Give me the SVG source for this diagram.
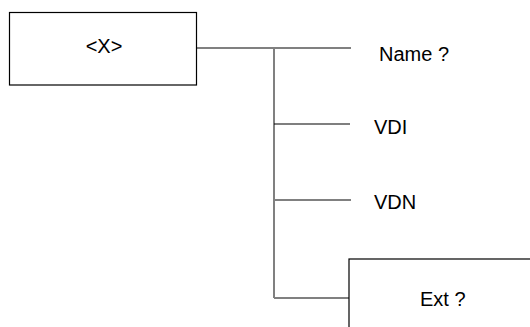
<svg xmlns="http://www.w3.org/2000/svg" width="530" height="327" viewBox="0 0 530 327">
<style>
.box{fill:#fff;stroke:#000;stroke-width:1.2}
.t{font-family:"Liberation Sans",Arial,sans-serif;font-size:20px;fill:#000}
.c{stroke:#808080;stroke-width:2;fill:none}
.cb{stroke:#000;stroke-width:1.2;fill:none}
</style>
<rect width="530" height="327" fill="#fff"/>
<g id="connectors">
<line class="c" x1="196" y1="48" x2="351" y2="48"/>
<line class="c" x1="274" y1="48" x2="274" y2="298"/>
<line class="cb" x1="274" y1="124" x2="350" y2="124"/>
<line class="c" x1="274" y1="200" x2="351" y2="200"/>
<line class="c" x1="274" y1="298" x2="349" y2="298"/>
</g>
<g id="node-x">
<rect class="box" x="9.5" y="12.5" width="187" height="72.5"/>
<text class="t" x="104" y="53" text-anchor="middle">&lt;X&gt;</text>
</g>
<g id="node-name">
<text class="t" x="379" y="61">Name ?</text>
</g>
<g id="node-vdi">
<text class="t" x="374" y="134">VDI</text>
</g>
<g id="node-vdn">
<text class="t" x="374" y="209">VDN</text>
</g>
<g id="node-ext">
<rect class="box" x="349" y="259" width="200" height="90"/>
<text class="t" x="420" y="306">Ext ?</text>
</g>
</svg>
